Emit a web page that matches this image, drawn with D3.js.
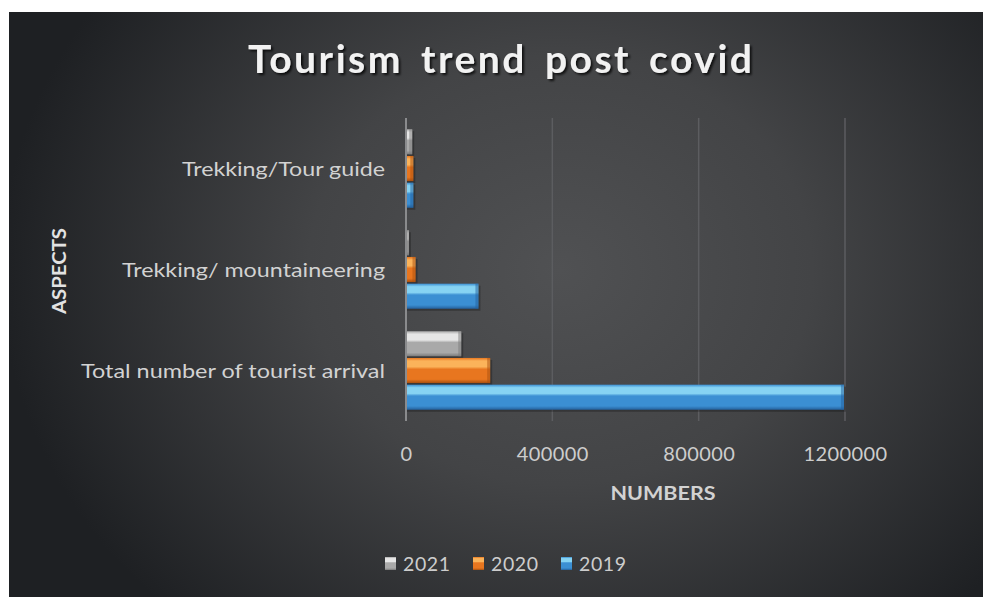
<!DOCTYPE html>
<html><head><meta charset="utf-8">
<script src="https://cdn.jsdelivr.net/npm/d3@7"></script>
<style>html,body{margin:0;padding:0;background:#fff;}svg{display:block;}</style>
</head><body>
<svg id="chart" width="983" height="597"></svg>
<script>
const categories = ["Trekking/Tour guide", "Trekking/ mountaineering", "Total number of tourist arrival"];
const years = ["2021", "2020", "2019"];
const values2021 = [17000, 8000, 150962];
const values2020 = [20000, 26000, 230085];
const values2019 = [20000, 198000, 1197191];
const xTicks = [0, 400000, 800000, 1200000];
const titleText = "Tourism trend post covid";
const xTitle = "NUMBERS";
const yTitle = "ASPECTS";

const seriesValues = {"2021": values2021, "2020": values2020, "2019": values2019};
const colors = {
  "2021": ["#e6e6e6", "#a9a9a9", "#7a7a7a"],
  "2020": ["#fbb35a", "#e8761f", "#a9500f"],
  "2019": ["#86d3f3", "#3b8fd3", "#24609c"]
};
const FONT = "Lato, 'Open Sans', sans-serif";

const svg = d3.select("#chart");
const defs = svg.append("defs");

const bg = defs.append("radialGradient").attr("id", "bg")
  .attr("gradientUnits", "userSpaceOnUse")
  .attr("cx", 560).attr("cy", 270).attr("r", 560)
  .attr("gradientTransform", "translate(560,270) scale(1,0.85) translate(-560,-270)");
bg.append("stop").attr("offset", "0%").attr("stop-color", "#505153");
bg.append("stop").attr("offset", "45%").attr("stop-color", "#434446");
bg.append("stop").attr("offset", "100%").attr("stop-color", "#1e2023");

const sh = defs.append("filter").attr("id", "shadow").attr("x", "-10%").attr("y", "-30%").attr("width", "120%").attr("height", "160%");
sh.append("feDropShadow").attr("dx", 2).attr("dy", 2).attr("stdDeviation", 1).attr("flood-color", "#000").attr("flood-opacity", 0.75);

years.forEach(y => {
  const g = defs.append("linearGradient").attr("id", "grad" + y)
    .attr("x1", 0).attr("y1", 0).attr("x2", 0).attr("y2", 1);
  const c = colors[y];
  g.append("stop").attr("offset", "0%").attr("stop-color", c[1]);
  g.append("stop").attr("offset", "12%").attr("stop-color", c[0]);
  g.append("stop").attr("offset", "35%").attr("stop-color", c[0]);
  g.append("stop").attr("offset", "45%").attr("stop-color", c[1]);
  g.append("stop").attr("offset", "85%").attr("stop-color", c[1]);
  g.append("stop").attr("offset", "100%").attr("stop-color", c[2]);
});

svg.append("rect").attr("x", 9).attr("y", 12).attr("width", 974).attr("height", 585).attr("fill", "url(#bg)");

const x = d3.scaleLinear().domain([0, 1200000]).range([406, 845]);
const y = d3.scaleBand().domain(categories).range([118, 421]).padding(0);
const yInner = d3.scaleBand().domain(years).range([0, y.bandwidth()]).paddingInner(0.06).paddingOuter(0.42);

// gridlines
svg.append("g").selectAll("line").data(xTicks.slice(1)).join("line")
  .attr("x1", d => x(d)).attr("x2", d => x(d))
  .attr("y1", 118).attr("y2", 421)
  .attr("stroke", "#5c5d60").attr("stroke-width", 1.5);

// bars
const groups = svg.append("g").selectAll("g").data(categories).join("g")
  .attr("transform", d => `translate(0,${y(d)})`);
groups.each(function(cat, i) {
  const g = d3.select(this);
  years.forEach(yr => {
    const v = seriesValues[yr][i];
    const by = yInner(yr), bh = yInner.bandwidth();
    g.append("rect").attr("x", x(0)).attr("y", by + 2).attr("width", Math.max(1, x(v) - x(0)) + 2).attr("height", bh)
      .attr("fill", "#000").attr("opacity", 0.25);
    g.append("rect").attr("x", x(0)).attr("y", by).attr("width", Math.max(1, x(v) - x(0))).attr("height", bh)
      .attr("fill", `url(#grad${yr})`);
    g.append("rect").attr("x", x(v) - 3).attr("y", by).attr("width", 3).attr("height", bh)
      .attr("fill", colors[yr][2]).attr("opacity", 0.5);
  });
});

// y axis line
svg.append("line").attr("x1", x(0)).attr("x2", x(0)).attr("y1", 118).attr("y2", 421)
  .attr("stroke", "#8a8b8d").attr("stroke-width", 2);

// y labels (widths matched to the reference)
const labelWidths = [203, 263, 304];
svg.append("g").selectAll("text").data(categories).join("text")
  .attr("x", 385).attr("y", d => y(d) + y.bandwidth() / 2 + 7)
  .attr("text-anchor", "end")
  .attr("font-family", FONT).attr("font-size", 20)
  .attr("textLength", (d, i) => labelWidths[i]).attr("lengthAdjust", "spacingAndGlyphs")
  .attr("fill", "#d2d2d2")
  .text(d => d);

// x tick labels
const xAxis = d3.axisBottom(x).tickValues(xTicks).tickFormat(d3.format("d")).tickSize(0).tickPadding(0);
const xg = svg.append("g").attr("transform", "translate(0,447)").call(xAxis);
xg.select(".domain").remove();
xg.selectAll("text").attr("font-family", FONT).attr("font-size", 20).attr("letter-spacing", 0.4)
  .attr("fill", "#cdcdcd").attr("dy", "0.71em");

// axis titles
svg.append("text").attr("x", 663).attr("y", 500).attr("text-anchor", "middle")
  .attr("font-family", FONT).attr("font-weight", "bold").attr("font-size", 19)
  .attr("textLength", 105).attr("lengthAdjust", "spacingAndGlyphs")
  .attr("fill", "#d2d2d2").text(xTitle);
svg.append("text").attr("transform", "translate(66,271) rotate(-90)").attr("text-anchor", "middle")
  .attr("font-family", FONT).attr("font-weight", "bold").attr("font-size", 19)
  .attr("textLength", 86).attr("lengthAdjust", "spacingAndGlyphs")
  .attr("fill", "#e2e2e2").text(yTitle);

// title
svg.append("text").attr("x", 500).attr("y", 73).attr("text-anchor", "middle")
  .attr("font-family", FONT).attr("font-weight", "bold").attr("font-size", 39)
  .attr("textLength", 504).attr("lengthAdjust", "spacing").attr("word-spacing", 6)
  .attr("fill", "#f2f2f2").attr("filter", "url(#shadow)").text(titleText);

// legend
const legendX = [385, 473, 561];
const lg = svg.append("g").selectAll("g").data(years).join("g")
  .attr("transform", (d, i) => `translate(${legendX[i]},556)`);
lg.append("rect").attr("width", 11).attr("height", 13).attr("y", 1).attr("fill", d => `url(#grad${d})`);
lg.append("text").attr("x", 18).attr("y", 15)
  .attr("font-family", FONT).attr("font-size", 19.5).attr("letter-spacing", 0.6)
  .attr("fill", "#cdcdcd").text(d => d);
</script>
</body></html>
